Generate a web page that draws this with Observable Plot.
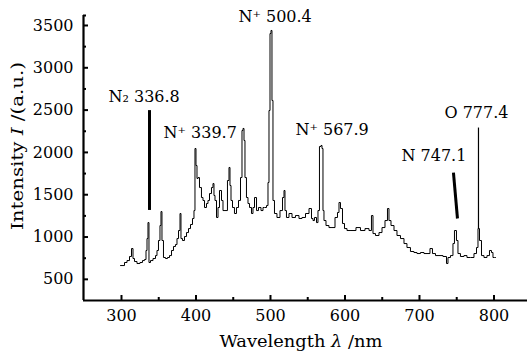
<!DOCTYPE html>
<html>
<head>
<meta charset="utf-8">
<script src="https://cdn.jsdelivr.net/npm/d3@7"></script>
<script src="https://cdn.jsdelivr.net/npm/@observablehq/plot@0.6"></script>
<style>
  html, body { margin: 0; padding: 0; background: #fff; }
  #chart { width: 530px; height: 360px; }
  #chart svg, #chart svg text { font-family: "DejaVu Serif", serif; }
</style>
</head>
<body>
<div id="chart"></div>
<script>
// Spectrum: wavelength (nm) and intensity (a.u.)
const wavelength = [298.7,302.7,305.4,309.4,312.1,314.8,316.1,318.8,322.8,326.8,329.5,332.2,333.6,334.9,336.2,337.6,340.3,344.3,347.0,348.3,351.0,352.3,353.7,355.0,357.7,360.4,363.1,365.8,368.5,371.1,373.8,375.2,377.9,379.2,380.5,383.2,385.9,388.6,391.3,394.0,396.6,398.0,399.3,400.7,402.0,403.4,406.0,408.7,410.1,412.8,415.4,416.8,419.5,422.1,423.5,424.8,426.2,428.9,430.2,432.9,435.6,436.9,440.9,443.6,445.0,446.3,447.7,450.3,453.0,455.7,458.4,461.1,462.4,463.8,465.1,466.4,469.1,470.5,473.2,475.8,477.2,479.9,482.6,485.2,489.3,490.6,493.3,496.0,497.3,498.7,500.0,501.3,502.7,504.0,506.7,510.7,514.8,517.5,518.8,520.1,522.8,526.9,530.9,536.2,540.3,544.3,549.7,553.7,556.4,557.7,560.4,563.1,564.4,567.1,568.5,569.8,571.1,572.5,576.5,580.5,584.6,588.6,591.3,592.6,595.3,598.0,600.7,604.7,611.4,618.1,623.5,630.2,634.2,636.9,638.3,643.6,647.7,651.7,655.7,658.4,659.7,663.8,667.8,671.8,677.2,681.2,685.2,690.6,694.6,698.7,704.0,708.1,712.1,716.1,718.8,724.2,728.2,734.9,737.6,738.9,744.3,745.6,748.3,751.0,752.3,757.7,761.7,765.8,771.1,775.2,777.9,779.2,781.9,784.6,788.6,792.6,795.3,798.0,799.3,802.0];
const intensity = [663,663,699,722,770,864,746,711,687,699,722,734,841,982,1171,699,722,746,781,841,959,1136,1301,959,758,746,758,781,841,888,911,982,1077,1278,982,959,1006,1053,1100,1148,1219,1313,2046,1845,1692,1703,1585,1467,1432,1349,1396,1432,1514,1585,1632,1491,1432,1231,1349,1550,1432,1313,1313,1668,1822,1609,1432,1349,1278,1349,1432,1703,2259,2283,2141,1703,1467,1396,1349,1278,1349,1467,1313,1349,1313,1349,1349,1372,1644,2495,3405,3441,2614,1432,1278,1231,1313,1467,1550,1313,1231,1278,1231,1254,1219,1231,1278,1337,1219,1195,1231,1171,1313,2070,2082,2046,1313,1195,1136,1112,1112,1231,1290,1408,1337,1160,1100,1077,1077,1112,1077,1100,1077,1254,1041,1018,1053,1112,1195,1337,1195,1136,1077,1018,982,923,876,829,817,805,817,805,805,864,805,781,781,770,687,758,781,923,1077,959,805,770,781,758,758,805,876,1100,959,781,758,781,841,817,758,758];

// Axes
const xDomain = [249, 845];
const yDomain = [250, 3618];
const xTicks = [300, 400, 500, 600, 700, 800];
const xMinorTicks = [350, 450, 550, 650, 750];
const yTicks = [500, 1000, 1500, 2000, 2500, 3000, 3500];
const yMinorTicks = [750, 1250, 1750, 2250, 2750, 3250, 3618];

// Peak annotations: label text, label anchor (wavelength, intensity)
const annLabels = ["N\u2082 336.8", "N\u207A 339.7", "N\u207A 500.4", "N\u207A 567.9", "N 747.1", "O 777.4"];
const annX = [282.5, 356.4, 457.0, 533.5, 675.8, 733.5];
const annY = [2661, 2235, 3600, 2265, 1963, 2472];

// Leader lines: start/end (wavelength, intensity) and weight
const leadX1 = [337.6, 745.6, 779.2];
const leadY1 = [2500, 1762, 2294];
const leadX2 = [337.6, 751.0, 779.2];
const leadY2 = [1320, 1219, 1100];
const leadW = [3, 3, 1.2];

const spectrum = wavelength.map((w, i) => ({w, v: intensity[i]}));
const anns = annLabels.map((t, i) => ({t, x: annX[i], y: annY[i]}));
const leads = leadX1.map((x1, i) => ({x1, y1: leadY1[i], x2: leadX2[i], y2: leadY2[i], w: leadW[i]}));

const font = "DejaVu Serif";

const chart = Plot.plot({
  width: 530,
  height: 360,
  marginLeft: 83,
  marginRight: 3,
  marginTop: 15,
  marginBottom: 60,
  style: {fontFamily: '"DejaVu Serif", serif', fontSize: "16px", background: "#fff", color: "#000"},
  x: {domain: xDomain},
  y: {domain: yDomain},
  marks: [
    Plot.axisX(xTicks, {tickSize: -5, tickPadding: 14, strokeWidth: 2, fontSize: 16, tickFormat: "d", fontFamily: font, label: null}),
    Plot.axisX(xMinorTicks, {tickSize: -3, tickFormat: () => "", strokeWidth: 2, label: null}),
    Plot.axisY(yTicks, {tickSize: -5, tickPadding: 15, strokeWidth: 2, fontSize: 16, tickFormat: "d", fontFamily: font, label: null}),
    Plot.axisY(yMinorTicks, {tickSize: -3, tickFormat: () => "", strokeWidth: 2, label: null}),
    Plot.ruleX([xDomain[0]], {stroke: "#000", strokeWidth: 2.2}),
    Plot.ruleY([yDomain[0]], {stroke: "#000", strokeWidth: 2.2}),
    Plot.line(spectrum, {x: "w", y: "v", curve: "step", stroke: "#000", strokeWidth: 1}),
    Plot.link(leads, {x1: "x1", y1: "y1", x2: "x2", y2: "y2", stroke: "#000", strokeWidth: "w"}),
    Plot.text(anns, {x: "x", y: "y", text: "t", textAnchor: "start", lineAnchor: "middle", fontSize: 16, fontFamily: font, fill: "#000"})
  ]
});

document.getElementById("chart").appendChild(chart);

// Axis titles with italic symbols
const svg = d3.select(chart);
const xt = svg.append("text")
  .attr("x", 301).attr("y", 347)
  .attr("text-anchor", "middle")
  .attr("textLength", 163).attr("lengthAdjust", "spacingAndGlyphs")
  .attr("font-family", font).attr("font-size", 17).attr("fill", "#000");
xt.append("tspan").text("Wavelength ");
xt.append("tspan").attr("font-style", "italic").text("\u03BB");
xt.append("tspan").text(" /nm");

const yt = svg.append("text")
  .attr("transform", "translate(23,146) rotate(-90)")
  .attr("text-anchor", "middle")
  .attr("textLength", 168).attr("lengthAdjust", "spacingAndGlyphs")
  .attr("font-family", font).attr("font-size", 16).attr("fill", "#000");
yt.append("tspan").text("Intensity ");
yt.append("tspan").attr("font-style", "italic").text("I");
yt.append("tspan").text(" /(a.u.)");
</script>
</body>
</html>
